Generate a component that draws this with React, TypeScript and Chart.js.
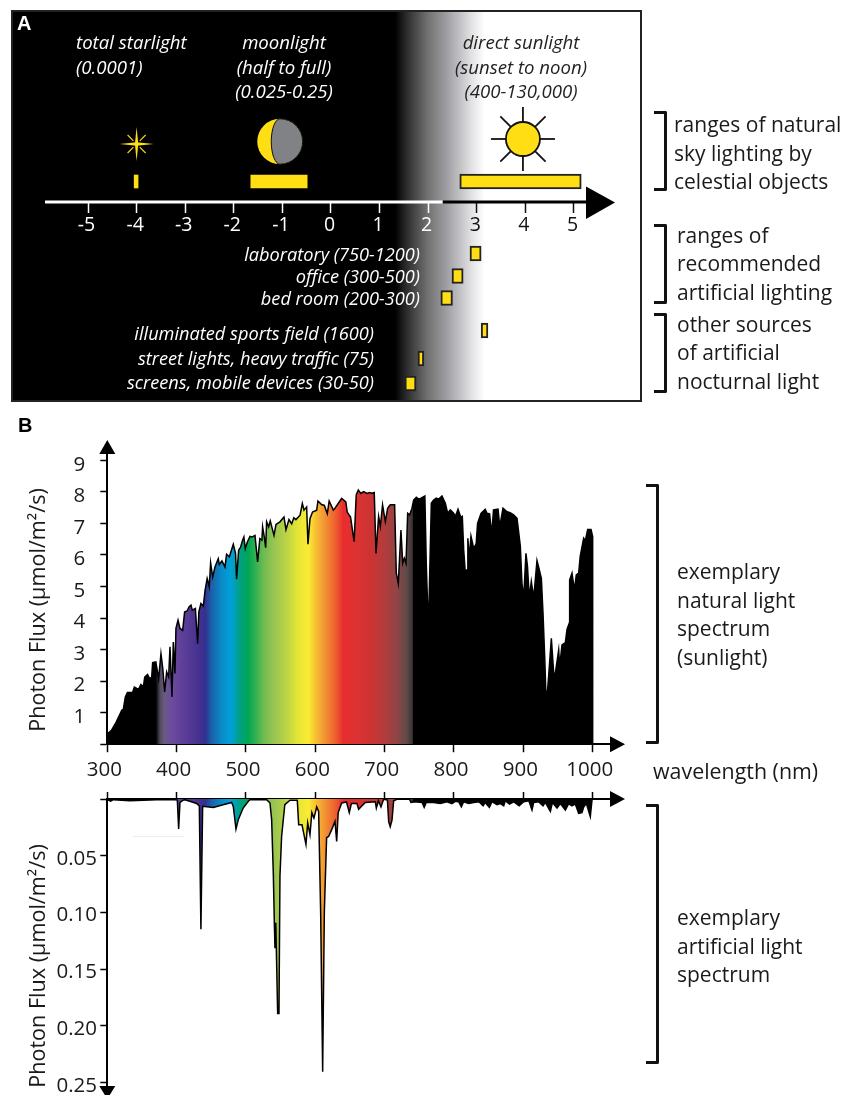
import React, { useEffect, useRef } from "react";
import { Chart, registerables } from "chart.js";

Chart.register(...registerables);

// ---------- DATA ----------
const logLuxTicks = [-5, -4, -3, -2, -1, 0, 1, 2, 3, 4, 5];
const skyNames = ["total starlight", "moonlight", "direct sunlight"];
const skyLow = [-4.05, -1.65, 2.65];
const skyHigh = [-3.97, -0.49, 5.15];
const artificialNames = ["laboratory", "office", "bed room", "illuminated sports field", "street lights, heavy traffic", "screens, mobile devices"];
const artificialLow = [2.86, 2.49, 2.26, 3.09, 1.79, 1.52];
const artificialHigh = [3.09, 2.72, 2.5, 3.23, 1.91, 1.75];

const solarNm = [300, 306, 313, 321, 323, 326, 329, 336.5, 339, 345, 348.5, 352, 354, 358, 360.6, 364, 365.4, 370, 374, 377.4, 380, 382.7, 385.6, 388.5, 390.4, 393.3, 395.2, 397.6, 399, 402, 404.8, 408.7, 411.5, 415.4, 417.8, 420.7, 422.6, 427, 430.3, 432, 435, 438.5, 441, 444, 447, 449, 452, 455.3, 460, 461.5, 465.4, 469.7, 472, 476, 481.7, 485, 486.5, 489.4, 492.3, 495.2, 497, 499, 502, 505.8, 509, 513, 516.8, 520, 523, 524, 526.4, 528.4, 529.8, 532.7, 535, 540.4, 543.3, 549, 554.8, 557.7, 562, 565.9, 569, 572, 578, 581.3, 583.7, 587.5, 589.4, 592.3, 596, 602, 603.8, 609, 613, 617.3, 620, 626, 628, 633, 638, 644, 646, 650.8, 656, 659, 662, 665.7, 669.7, 674.5, 678.4, 681.7, 685, 687.5, 691.3, 693.8, 697, 701, 704.3, 708, 714.4, 716.8, 719.7, 723.5, 726, 728.4, 730.8, 733.2, 736, 739.4, 741.8, 745.7, 749, 752.4, 758, 760, 762, 763.9, 767.3, 770.6, 774.5, 778, 782.7, 787.5, 790.9, 794.7, 799.5, 802, 805.8, 810, 812, 814, 816.3, 818.8, 820, 822, 824.5, 828.4, 832, 834, 839, 845, 847.6, 851.4, 854.3, 857, 863.5, 866, 870.7, 876.5, 881, 886, 890.9, 895.7, 898, 900.5, 903.8, 906, 908.6, 911.5, 915, 919.7, 923, 926, 928.4, 930.8, 932.7, 935, 937.5, 940.4, 943.8, 946, 951, 952.4, 955.8, 960.6, 963, 966.3, 966.8, 970.2, 973.6, 976.4, 979.8, 982, 987, 989.4, 992.8, 997.6, 1000, 1000];
const solarFlux = [0.32, 0.44, 0.71, 1.08, 1.1, 1.5, 1.64, 1.64, 1.81, 1.74, 1.89, 1.82, 2.13, 2.21, 2.1, 2.11, 2.59, 2.61, 2.08, 2.87, 2.4, 1.66, 2.29, 2.13, 3.09, 1.5, 3.24, 2.24, 3.67, 3.93, 3.67, 3.61, 4.19, 4.23, 4.35, 4.41, 4.25, 4.3, 3.19, 4.19, 4.46, 4.38, 4.88, 5.25, 4.99, 5.75, 5.3, 5.62, 5.88, 5.7, 5.81, 5.62, 6.02, 5.94, 6.34, 6.04, 5.23, 6.15, 6.25, 6.47, 6.57, 6.2, 6.41, 6.59, 6.57, 6.62, 5.78, 6.52, 6.47, 6.89, 6.57, 6.23, 7.05, 6.89, 7.08, 6.62, 6.97, 7.05, 7.2, 6.8, 7.12, 6.99, 7.18, 7.12, 7.26, 7.63, 7.42, 7.52, 6.34, 7.15, 7.36, 7.42, 7.71, 7.6, 7.57, 7.31, 7.71, 7.42, 7.47, 7.63, 7.79, 7.68, 7.36, 7.2, 6.42, 7.9, 8.06, 7.95, 8.01, 7.95, 7.98, 7.96, 7.98, 6.05, 7.22, 6.9, 7.59, 7.06, 7.48, 7.59, 7.59, 5.42, 5.1, 6.79, 5.74, 5.9, 5.74, 7.32, 7.27, 7.48, 7.74, 7.83, 7.77, 7.8, 7.87, 5.74, 4.36, 4.36, 7.64, 7.74, 7.8, 7.77, 7.87, 7.64, 7.32, 7.43, 7.32, 7.22, 7.45, 7.19, 7.22, 6.16, 5.44, 5.53, 6.53, 5.9, 6.6, 6.21, 6.35, 7.0, 7.32, 7.45, 7.32, 7.3, 6.63, 7.43, 7.45, 6.9, 7.48, 7.37, 7.34, 7.27, 7.16, 6.27, 5.1, 4.63, 6.05, 5.63, 4.63, 5.16, 4.63, 5.82, 5.53, 5.26, 4.15, 2.78, 1.51, 1.72, 2.46, 3.36, 2.25, 2.23, 2.99, 2.46, 3.15, 3.22, 3.64, 3.84, 5.21, 5.42, 4.89, 5.37, 5.42, 5.95, 6.53, 6.45, 6.81, 6.81, 6.58, 0];

const lampNm = [300, 304.8, 308.7, 332.7, 371, 397.6, 401, 402.9, 404.8, 409.6, 412, 419, 428.8, 432.7, 435, 437.5, 452.9, 467, 479.3, 481.7, 485.6, 489, 496, 503.4, 505.8, 529.8, 534.6, 537, 539.4, 540.9, 541.8, 543, 545.7, 547.6, 549, 551.4, 556, 563.5, 574, 576, 580.8, 582.7, 586.5, 589, 592.3, 595, 598, 602, 604.8, 607.7, 610.6, 613, 616.3, 619.2, 623.6, 628.4, 630.8, 633, 638, 645, 649, 652, 660, 662.5, 672, 686.5, 688, 691, 694.7, 698.5, 704, 705.8, 708, 710.6, 713, 717.8, 736, 738, 744, 754, 757, 760, 770.7, 780, 790, 797, 802, 806.7, 810.6, 814, 821, 828.4, 836, 842, 845, 851, 854.8, 862, 867, 871.7, 874, 880, 886, 894, 900.5, 908, 912.5, 915, 922, 928.4, 931.7, 939, 942, 948.6, 953.4, 960.6, 965.4, 970, 975, 979.8, 984.6, 987, 990.9, 996.6, 999, 1000];
const lampFlux = [0.0006, 0.002, 0.0006, 0.0015, 0.0006, 0.0006, 0.001, 0.0265, 0.003, 0.001, 0.0006, 0.002, 0.004, 0.006, 0.1147, 0.0065, 0.0074, 0.005, 0.003, 0.0065, 0.0265, 0.018, 0.008, 0.002, 0.0006, 0.0006, 0.0035, 0.018, 0.065, 0.109, 0.1315, 0.109, 0.189, 0.189, 0.068, 0.033, 0.005, 0.001, 0.001, 0.0226, 0.0226, 0.0285, 0.04, 0.021, 0.0315, 0.012, 0.0168, 0.007, 0.011, 0.1, 0.2403, 0.1, 0.034, 0.033, 0.027, 0.0197, 0.0374, 0.012, 0.0035, 0.0026, 0.012, 0.004, 0.004, 0.009, 0.003, 0.0024, 0.008, 0.0015, 0.007, 0.0003, 0.001, 0.02, 0.0244, 0.0185, 0.0015, 0.0003, 0.0003, 0.003, 0.0024, 0.003, 0.0074, 0.003, 0.003, 0.004, 0.0024, 0.004, 0.002, 0.0024, 0.0068, 0.0024, 0.004, 0.003, 0.0024, 0.006, 0.003, 0.0074, 0.0024, 0.005, 0.004, 0.006, 0.0015, 0.0044, 0.0024, 0.006, 0.0024, 0.0015, 0.0097, 0.003, 0.0024, 0.006, 0.003, 0.011, 0.003, 0.008, 0.004, 0.0097, 0.004, 0.006, 0.0044, 0.0126, 0.012, 0.007, 0.004, 0.0156, 0.001, 0];

const wavelengthTicks = [300, 400, 500, 600, 700, 800, 900, 1000];
const spectrumStops: [number, string][] = [
  [300, "#000000"], [370, "#000000"], [376, "#514b5c"], [382, "#6a5a80"], [392, "#6c4c9e"], [412, "#5b3d97"], [432, "#46318f"], [441, "#33308f"], [450, "#1b5fa8"], [465, "#0a8cc8"], [478, "#00a0da"], [490, "#00a08c"], [503, "#00a651"], [512, "#2aae52"], [525, "#6cbb50"], [540, "#98c453"], [560, "#bfd544"], [575, "#e5e535"], [590, "#f9ed32"], [600, "#f9c233"], [615, "#f28f33"], [630, "#ee5c30"], [640, "#e82d2f"], [660, "#dc3232"], [680, "#cc3333"], [700, "#b33c3c"], [718, "#8f4545"], [732, "#5f4a4a"], [740, "#3a3232"], [741.5, "#000000"], [1000, "#000000"],
];

// ---------- STYLE / LAYOUT ----------
const SANS = '"Open Sans", sans-serif';
const YELLOW = "#ffde14";
const INK = "#1a1a1a";
const rowOf = { sky: 170.5, sun: 170.5, lab: 242.5, office: 265, bed: 287, sports: 319.5, street: 347.5, screens: 372.5 };
const artificialRows = [rowOf.lab, rowOf.office, rowOf.bed, rowOf.sports, rowOf.street, rowOf.screens];

function spectrumFill(ctx: any) {
  const chart = ctx.chart;
  const xs = chart.scales.x;
  if (!xs || !chart.chartArea) return "#000";
  const a = xs.getPixelForValue(300), b = xs.getPixelForValue(1000);
  const g = chart.ctx.createLinearGradient(a, 0, b, 0);
  for (const [nm, c] of spectrumStops) g.addColorStop((nm - 300) / 700, c);
  return g;
}

function triangle(c: CanvasRenderingContext2D, pts: number[][]) {
  c.beginPath();
  c.moveTo(pts[0][0], pts[0][1]);
  for (const p of pts.slice(1)) c.lineTo(p[0], p[1]);
  c.closePath();
  c.fill();
}

const noPadding = (s: any) => { s.paddingTop = 0; s.paddingBottom = 0; s.paddingLeft = 0; s.paddingRight = 0; };

const skyPlugin = {
  id: "sky",
  beforeDraw(chart: any) {
    const c: CanvasRenderingContext2D = chart.ctx;
    const xs = chart.scales.x;
    const g = c.createLinearGradient(xs.getPixelForValue(1.32), 0, xs.getPixelForValue(3.17), 0);
    g.addColorStop(0, "#000");
    g.addColorStop(0.12, "#2a2a2a");
    g.addColorStop(0.35, "#6e6e6e");
    g.addColorStop(0.62, "#a9a9ae");
    g.addColorStop(0.85, "#e2e2e4");
    g.addColorStop(1, "#fff");
    c.save();
    c.fillStyle = g;
    c.fillRect(12, 11, 629, 390);
    c.restore();
  },
  afterDatasetsDraw(chart: any) {
    const c: CanvasRenderingContext2D = chart.ctx;
    const xs = chart.scales.x;
    c.save();
    // box
    c.strokeStyle = "#222";
    c.lineWidth = 2;
    c.strokeRect(12, 11, 629, 390);
    // axis line
    const split = xs.getPixelForValue(2.3);
    c.lineWidth = 3;
    c.strokeStyle = "#fff";
    c.beginPath(); c.moveTo(xs.left, 202); c.lineTo(split, 202); c.stroke();
    c.strokeStyle = "#000";
    c.beginPath(); c.moveTo(split, 202); c.lineTo(xs.right, 202); c.stroke();
    c.fillStyle = "#000";
    triangle(c, [[586, 186.5], [615, 202.5], [586, 219]]);
    // star
    const sx = xs.getPixelForValue(-4), sy = 144;
    c.fillStyle = YELLOW;
    const spike = (dx: number, dy: number, w: number) => {
      const nx = -dy, ny = dx, l = Math.hypot(dx, dy);
      triangle(c, [[sx + (nx / l) * w, sy + (ny / l) * w], [sx + dx, sy + dy], [sx - (nx / l) * w, sy - (ny / l) * w]]);
    };
    for (const [dx, dy] of [[17, 0], [-17, 0], [0, 17], [0, -17]]) spike(dx, dy, 1.7);
    for (const [dx, dy] of [[9, 9], [-9, 9], [9, -9], [-9, -9]]) {
      c.beginPath();
      c.strokeStyle = YELLOW;
      c.lineWidth = 1.1;
      c.moveTo(sx + dx * 0.35, sy + dy * 0.35);
      c.lineTo(sx + dx, sy + dy);
      c.stroke();
    }
    // moon
    const mx = xs.getPixelForValue(-1.05), my = 141.5, mr = 22.7;
    c.fillStyle = YELLOW;
    c.beginPath(); c.arc(mx, my, mr, 0, Math.PI * 2); c.fill();
    c.fillStyle = "#808285";
    c.strokeStyle = "#111";
    c.lineWidth = 1;
    c.beginPath();
    c.arc(mx, my, mr, -Math.PI / 2, Math.PI / 2, false);
    c.ellipse(mx, my, 8.7, mr, 0, Math.PI / 2, -Math.PI / 2, false);
    c.closePath();
    c.fill();
    c.stroke();
    // sun
    const ux = xs.getPixelForValue(3.95), uy = 139;
    c.strokeStyle = "#111";
    c.lineWidth = 1.8;
    for (let i = 0; i < 8; i++) {
      const t = (i * Math.PI) / 4;
      c.beginPath();
      c.moveTo(ux + Math.cos(t) * 16, uy + Math.sin(t) * 16);
      c.lineTo(ux + Math.cos(t) * 32, uy + Math.sin(t) * 32);
      c.stroke();
    }
    c.fillStyle = YELLOW;
    c.beginPath(); c.arc(ux, uy, 17, 0, Math.PI * 2); c.fill(); c.stroke();
    c.restore();
  },
};

function arrowPlugin(kind: "upper" | "lower") {
  return {
    id: "arrows" + kind,
    afterDraw(chart: any) {
      const c: CanvasRenderingContext2D = chart.ctx;
      const xs = chart.scales.x, ys = chart.scales.y;
      c.save();
      c.fillStyle = "#000";
      const yAxisX = xs.left;
      const yAxisLine = kind === "upper" ? ys.bottom : ys.top;
      const right = xs.right;
      triangle(c, [[right, yAxisLine - 8], [right + 15, yAxisLine], [right, yAxisLine + 8]]);
      if (kind === "upper") {
        triangle(c, [[yAxisX - 8, ys.top], [yAxisX, ys.top - 14], [yAxisX + 8, ys.top]]);
      } else {
        triangle(c, [[yAxisX - 8, ys.bottom + 1], [yAxisX, ys.bottom + 14], [yAxisX + 8, ys.bottom + 1]]);
        // faint stray rule seen in the figure
        c.strokeStyle = "#ececec";
        c.lineWidth = 1;
        c.beginPath();
        c.moveTo(xs.getPixelForValue(337), ys.getPixelForValue(0.0332));
        c.lineTo(xs.getPixelForValue(411), ys.getPixelForValue(0.0332));
        c.stroke();
      }
      c.restore();
    },
  };
}

const tickFont = { family: SANS, size: 20.5 };

function makePanelA(canvas: HTMLCanvasElement) {
  const bars = (low: number[], high: number[], rows: number[], thickness: number, border: number) => ({
    type: "bar" as const,
    data: low.map((l, i) => ({ x: [l, high[i]], y: rows[i] })),
    backgroundColor: YELLOW,
    borderColor: "#222",
    borderWidth: border,
    borderSkipped: false,
    grouped: false,
    barPercentage: 1,
    categoryPercentage: 1,
    maxBarThickness: thickness,
  });
  return new Chart(canvas, {
    type: "bar",
    data: {
      labels: [...skyNames, ...artificialNames],
      datasets: [
        { label: "moon and star", ...bars(skyLow.slice(0, 2), skyHigh.slice(0, 2), [rowOf.sky, rowOf.sky], 13, 0) },
        { label: "sun", ...bars(skyLow.slice(2), skyHigh.slice(2), [rowOf.sun], 15, 2) },
        { label: "artificial", ...bars(artificialLow, artificialHigh, artificialRows, 15, 2) },
      ] as any,
    },
    options: {
      indexAxis: "y",
      responsive: false,
      animation: false,
      devicePixelRatio: 1,
      layout: { padding: { left: 45, right: 842 - 590, top: 11, bottom: 9 } },
      plugins: { legend: { display: false }, tooltip: { enabled: false } },
      scales: {
        x: {
          type: "linear",
          min: -5.885,
          max: 5.33,
          position: { y: 191 } as any,
          border: { display: false },
          grid: {
            drawOnChartArea: false,
            drawTicks: true,
            tickLength: 11,
            tickWidth: 1.5,
            tickColor: (ctx: any) => (ctx.tick && ctx.tick.value <= 2 ? "#fff" : "#111"),
          },
          afterBuildTicks: (s: any) => { s.ticks = logLuxTicks.map((value) => ({ value })); },
          afterFit: noPadding,
          ticks: {
            includeBounds: false,
            autoSkip: false,
            maxRotation: 0,
            padding: 1,
            labelOffset: -1.5,
            font: { family: SANS, size: 19.5 },
            color: (ctx: any) => (ctx.tick && ctx.tick.value <= 2 ? "#fff" : "#111"),
          },
        },
        y: { type: "linear", min: 0, max: 390, reverse: true, display: false, offset: false },
      },
    },
    plugins: [skyPlugin as any],
  });
}

function makePanelB(canvas: HTMLCanvasElement) {
  return new Chart(canvas, {
    type: "line",
    data: {
      datasets: [{
        label: "sunlight",
        data: solarNm.map((x, i) => ({ x, y: solarFlux[i] })),
        borderColor: "#000",
        borderWidth: 1.5,
        pointRadius: 0,
        tension: 0,
        fill: "origin",
        backgroundColor: spectrumFill as any,
      }],
    },
    options: {
      responsive: false,
      animation: false,
      devicePixelRatio: 1,
      layout: { padding: { left: 0, right: 842 - 610, top: 44, bottom: 0 } },
      plugins: { legend: { display: false }, tooltip: { enabled: false } },
      scales: {
        x: {
          type: "linear", min: 300, max: 1025,
          border: { color: "#000", width: 2 },
          grid: { drawOnChartArea: false, tickLength: 8, tickWidth: 1.5, tickColor: "#000" },
          afterBuildTicks: (s: any) => { s.ticks = wavelengthTicks.map((value) => ({ value })); },
          afterFit: (s: any) => { s.height = 40.8; noPadding(s); },
          ticks: { includeBounds: false, autoSkip: false, maxRotation: 0, padding: 6, labelOffset: -3, font: tickFont, color: INK, callback: (v: any) => String(v) },
        },
        y: {
          type: "linear", min: 0, max: 9.2,
          border: { color: "#000", width: 2 },
          grid: { drawOnChartArea: false, tickLength: 7, tickWidth: 1.5, tickColor: "#000" },
          afterFit: (s: any) => { s.width = 107.3; noPadding(s); },
          ticks: { stepSize: 1, includeBounds: false, padding: 15, labelOffset: 4.5, font: tickFont, color: INK, callback: (v: any) => (v === 0 ? "" : String(v)) },
        },
      },
    },
    plugins: [arrowPlugin("upper") as any],
  });
}

function makePanelC(canvas: HTMLCanvasElement) {
  return new Chart(canvas, {
    type: "line",
    data: {
      datasets: [{
        label: "artificial light",
        data: lampNm.map((x, i) => ({ x, y: lampFlux[i] })),
        borderColor: "#000",
        borderWidth: 1.5,
        pointRadius: 0,
        tension: 0,
        fill: "origin",
        backgroundColor: spectrumFill as any,
      }],
    },
    options: {
      responsive: false,
      animation: false,
      devicePixelRatio: 1,
      layout: { padding: { left: 0, right: 842 - 610, top: 0, bottom: 10 } },
      plugins: { legend: { display: false }, tooltip: { enabled: false } },
      scales: {
        x: {
          type: "linear", min: 300, max: 1025, position: "top",
          border: { color: "#000", width: 2 },
          grid: { drawOnChartArea: false, tickLength: 7, tickWidth: 1.5, tickColor: "#000" },
          afterBuildTicks: (s: any) => { s.ticks = wavelengthTicks.map((value) => ({ value })); },
          afterFit: (s: any) => { s.height = 14; noPadding(s); },
          ticks: { display: false, includeBounds: false, autoSkip: false },
        },
        y: {
          type: "linear", min: 0, max: 0.252, reverse: true,
          border: { color: "#000", width: 2 },
          grid: { drawOnChartArea: false, tickLength: 7, tickWidth: 1.5, tickColor: "#000" },
          afterFit: (s: any) => { s.width = 107.3; noPadding(s); },
          ticks: { stepSize: 0.05, includeBounds: false, padding: 3.3, labelOffset: 3, font: tickFont, color: INK, callback: (v: any) => (v < 0.001 ? "" : Number(v).toFixed(2)) },
        },
      },
    },
    plugins: [arrowPlugin("lower") as any],
  });
}

// ---------- TEXT ----------
type T = { t: string; x: number; y: number; align?: "l" | "c" | "r"; color?: string; size?: number; italic?: boolean; bold?: boolean; rotate?: boolean; font?: string };

const ital = 18.6;
const rowItal = 18.2;
const side = 21;
const texts: T[] = [
  { t: "A", x: 17, y: 23, bold: true, color: "#fff", size: 20, font: '"Liberation Sans", sans-serif' },
  { t: "B", x: 18, y: 425, bold: true, color: "#000", size: 20, font: '"Liberation Sans", sans-serif' },
  { t: "total starlight", x: 76, y: 42, italic: true, color: "#fff" },
  { t: "(0.0001)", x: 76, y: 67, italic: true, color: "#fff" },
  { t: "moonlight", x: 284, y: 42, align: "c", italic: true, color: "#fff" },
  { t: "(half to full)", x: 284, y: 67, align: "c", italic: true, color: "#fff" },
  { t: "(0.025-0.25)", x: 284, y: 91, align: "c", italic: true, color: "#fff" },
  { t: "direct sunlight", x: 521, y: 42, align: "c", italic: true, color: "#222" },
  { t: "(sunset to noon)", x: 521, y: 67, align: "c", italic: true, color: "#222" },
  { t: "(400-130,000)", x: 521, y: 91, align: "c", italic: true, color: "#222" },
  { t: "laboratory (750-1200)", x: 420, y: 254, align: "r", italic: true, color: "#fff", size: rowItal },
  { t: "office (300-500)", x: 420, y: 276, align: "r", italic: true, color: "#fff", size: rowItal },
  { t: "bed room (200-300)", x: 420, y: 298, align: "r", italic: true, color: "#fff", size: rowItal },
  { t: "illuminated sports field (1600)", x: 374, y: 333, align: "r", italic: true, color: "#fff", size: rowItal },
  { t: "street lights, heavy traffic (75)", x: 374, y: 358, align: "r", italic: true, color: "#fff", size: rowItal },
  { t: "screens, mobile devices (30-50)", x: 374, y: 382, align: "r", italic: true, color: "#fff", size: rowItal },
  { t: "ranges of natural", x: 674, y: 124, size: side },
  { t: "sky lighting by", x: 674, y: 153, size: side },
  { t: "celestial objects", x: 674, y: 181, size: side },
  { t: "ranges of", x: 677, y: 235, size: side },
  { t: "recommended", x: 677, y: 263, size: side },
  { t: "artificial lighting", x: 677, y: 292, size: side },
  { t: "other sources", x: 677, y: 324, size: side },
  { t: "of artificial", x: 677, y: 352, size: side },
  { t: "nocturnal light", x: 677, y: 381, size: side },
  { t: "wavelength (nm)", x: 653, y: 771, size: 21.4 },
  { t: "exemplary", x: 677, y: 571, size: side },
  { t: "natural light", x: 677, y: 599.5, size: side },
  { t: "spectrum", x: 677, y: 628, size: side },
  { t: "(sunlight)", x: 677, y: 656.5, size: side },
  { t: "exemplary", x: 677, y: 917, size: side },
  { t: "artificial light", x: 677, y: 946, size: side },
  { t: "spectrum", x: 677, y: 974, size: side },
  { t: "Photon Flux (µmol/m²/s)", x: 37, y: 610, rotate: true, size: 21.6 },
  { t: "Photon Flux (µmol/m²/s)", x: 37, y: 966, rotate: true, size: 21.6 },
];

const brackets = [
  { x: 654, y: 111, w: 12.5, h: 80 },
  { x: 654, y: 224, w: 12.5, h: 80 },
  { x: 654, y: 313, w: 12.5, h: 80 },
  { x: 646, y: 483.5, w: 12.5, h: 260 },
  { x: 646, y: 803.5, w: 12.5, h: 260 },
];

function Label({ d }: { d: T }) {
  const tx = d.align === "c" ? "-50%" : d.align === "r" ? "-100%" : "0";
  const transform = d.rotate ? "translate(-50%,-50%) rotate(-90deg)" : `translate(${tx},-50%)`;
  return (
    <span
      style={{
        position: "absolute", left: d.x, top: d.y, transform, whiteSpace: "nowrap",
        fontFamily: d.font || SANS, fontSize: d.size || ital, fontStyle: d.italic ? "italic" : "normal",
        fontWeight: d.bold ? 700 : 400, color: d.color || INK, lineHeight: 1,
      }}
    >
      {d.t}
    </span>
  );
}

export default function App() {
  const a = useRef<HTMLCanvasElement>(null);
  const b = useRef<HTMLCanvasElement>(null);
  const c = useRef<HTMLCanvasElement>(null);
  useEffect(() => {
    document.body.style.margin = "0";
    const charts = [makePanelA(a.current!), makePanelB(b.current!), makePanelC(c.current!)];
    return () => charts.forEach((ch) => ch.destroy());
  }, []);
  const cv = (top: number): React.CSSProperties => ({ position: "absolute", left: 0, top, display: "block" });
  return (
    <div style={{ position: "relative", width: 842, height: 1095, overflow: "hidden", background: "#fff" }}>
      <canvas ref={a} width={842} height={410} style={cv(0)} />
      <canvas ref={b} width={842} height={375} style={cv(410)} />
      <canvas ref={c} width={842} height={310} style={cv(785)} />
      {texts.map((d, i) => <Label key={i} d={d} />)}
      {brackets.map((k, i) => (
        <div key={i} style={{ position: "absolute", left: k.x, top: k.y, width: k.w, height: k.h, boxSizing: "border-box", borderTop: "3px solid #111", borderRight: "3px solid #111", borderBottom: "3px solid #111", borderTopRightRadius: 2, borderBottomRightRadius: 2 }} />
      ))}
    </div>
  );
}
